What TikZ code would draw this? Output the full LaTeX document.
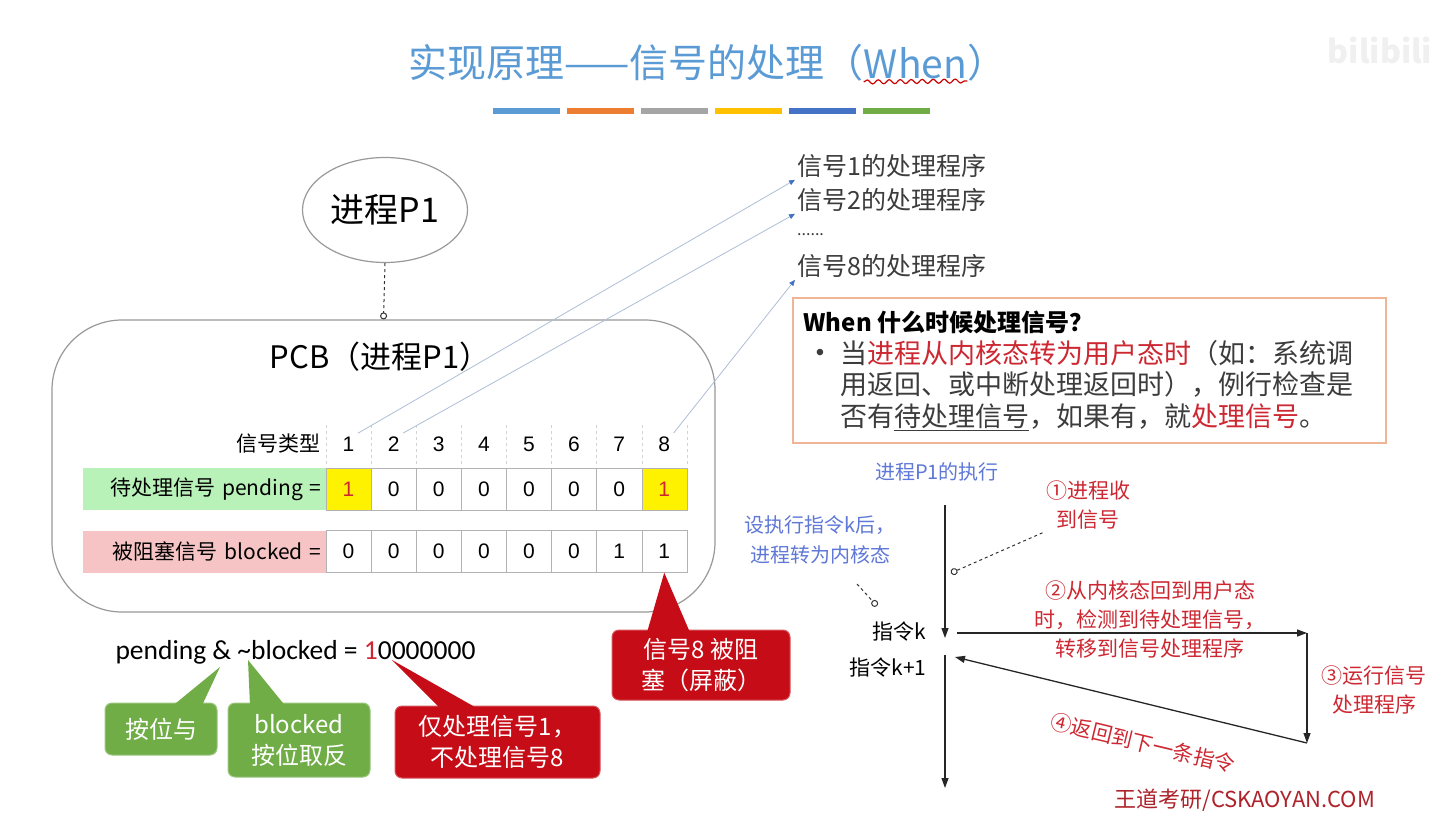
\documentclass[tikz,border=0pt]{standalone}
\usepackage{fontspec}
\setmainfont{Noto Sans CJK SC}
\newfontfamily\latinfont{Carlito}
\newfontfamily\arialfont{Liberation Sans}
\usetikzlibrary{arrows.meta,positioning,shapes.geometric,decorations.pathmorphing}

\definecolor{titleblue}{RGB}{91,155,213}
\definecolor{barorange}{RGB}{237,125,49}
\definecolor{bargray}{RGB}{165,165,165}
\definecolor{baryellow}{RGB}{255,192,0}
\definecolor{bardarkblue}{RGB}{68,114,196}
\definecolor{bargreen}{RGB}{112,173,71}
\definecolor{txtred}{RGB}{205,40,50}
\definecolor{calloutred}{RGB}{198,12,22}
\definecolor{pendgreen}{RGB}{185,242,185}
\definecolor{blockpink}{RGB}{246,196,196}
\definecolor{linkblue}{RGB}{175,190,215}
\definecolor{boxorange}{RGB}{240,180,150}
\definecolor{flowblue}{RGB}{95,120,215}
\definecolor{textgray}{RGB}{60,60,60}

\begin{document}
\begin{tikzpicture}[x=1pt,y=-1pt,
  cell/.style={draw=gray!60, minimum width=45.1pt, minimum height=42pt, inner sep=0pt, font=\arialfont\fontsize{21}{21}\selectfont},
  rowlabel/.style={minimum height=42pt, text width=235pt, inner sep=4pt, align=right, font=\fontsize{21}{21}\selectfont},
  handler/.style={anchor=west, inner sep=2pt, text=textgray, font=\fontsize{25}{25}\selectfont},
  link/.style={linkblue, line width=0.8pt, -{Triangle[length=6pt,width=5pt,color=bardarkblue]}},
  callgreen/.style={fill=bargreen, draw=bargreen!70!white, line width=1pt, rounded corners=7pt, text=white, align=center, inner sep=0pt, font=\fontsize{24}{31}\selectfont},
  callred/.style={fill=calloutred, draw=calloutred!70!white, line width=1pt, rounded corners=7pt, text=white, align=center, inner sep=0pt, font=\fontsize{24}{31}\selectfont},
  flowtext/.style={text=txtred, align=center, font=\fontsize{21}{29}\selectfont},
  flowarrow/.style={black!85, line width=1.3pt, -{Triangle[length=10pt,width=7pt]}},
  pin/.style={dashed, black!80, line width=1pt, -{Circle[open,length=7pt]}},
  titletext/.style={text=titleblue, inner sep=0pt, font=\fontsize{39}{39}\selectfont}
]
\useasboundingbox[fill=white] (0,0) rectangle (1443,816);

% title
\node[titletext, anchor=west] (titlea) at (408,63) {实现原理——信号的处理（};
\node[titletext, right=0pt of titlea] (titlew) {When};
\node[titletext, right=0pt of titlew] (titleb) {）};
\draw[red!80!black, line width=1.2pt, decorate, decoration={snake, amplitude=2pt, segment length=11pt}] ([yshift=-3pt]titlew.south west) -- ([yshift=-2pt]titlew.south east);
\foreach \c [count=\i] in {titleblue,barorange,bargray,baryellow,bardarkblue,bargreen}
   \fill[\c] ({493+(\i-1)*74},108) rectangle ++(67,6);
\node[text=gray!12, font=\bfseries\fontsize{32}{32}\selectfont] (bili) at (1380,50) {bilibili};

% process and PCB
\node[ellipse, draw=gray!80, line width=1.2pt, minimum width=165pt, minimum height=105pt, font=\fontsize{34}{34}\selectfont] (proc) at (385,210) {进程P1};
\node[draw=gray!80, line width=1.2pt, rounded corners=70pt, minimum width=663pt, minimum height=292pt] (pcb) at (383.5,466) {};
\node[font=\fontsize{31}{31}\selectfont] (pcblbl) at (380,357) {PCB（进程P1）};
\draw[pin] (proc.south) -- (pcb.north);

% signal table
\foreach \k in {0,...,8}
   \draw[gray!35, dashed] ({326+45.1*\k},425) -- ({326+45.1*\k},466);
\node[anchor=east, font=\fontsize{21}{21}\selectfont] (typelbl) at (324,444) {信号类型};
\foreach \i in {1,...,8}
   \node[font=\arialfont\fontsize{21}{21}\selectfont] (h\i) at ({326+45.1*(\i-0.5)},444) {\i};
\foreach \v/\f/\c [count=\i] in {1/yellow/txtred,0/white/black,0/white/black,0/white/black,0/white/black,0/white/black,0/white/black,1/yellow/txtred}
   \node[cell, fill=\f, text=\c] (p\i) at ({326+45.1*(\i-0.5)},489) {\v};
\foreach \v [count=\i] in {0,0,0,0,0,0,1,1}
   \node[cell] (b\i) at ({326+45.1*(\i-0.5)},551.5) {\v};
\node[rowlabel, fill=pendgreen, anchor=east] (pendlbl) at (p1.west) {待处理信号 pending =};
\node[rowlabel, fill=blockpink, anchor=east] (blklbl) at (b1.west) {被阻塞信号 blocked =};

% handlers
\node[handler] (hd1) at (795,166) {信号1的处理程序};
\node[handler] (hd2) at (795,200) {信号2的处理程序};
\node[handler, font=\fontsize{16}{16}\selectfont] (hddots) at (795,235) {......};
\node[handler] (hd8) at (795,266) {信号8的处理程序};
\draw[link] (h1.north east) -- (hd1.south west);
\draw[link] (h2.north east) -- (hd2.south west);
\draw[link] (h8.north east) -- (hd8.south west);

% when box
\node[draw=boxorange, line width=1.5pt, anchor=north west, minimum width=593pt, minimum height=145pt, inner sep=0pt] (whenbox) at (792,297) {};
\node[anchor=west, font=\bfseries\fontsize{24}{24}\selectfont] (whenq) at (800,322) {When 什么时候处理信号？};
\node[text=textgray, font=\arialfont\fontsize{24}{24}\selectfont] (bullet) at (820,355) {\textbullet};
\node[anchor=north west, align=left, inner sep=0pt, text=textgray, font=\fontsize{27}{31.5}\selectfont] (whentxt) at (840,340)
   {当\textcolor{txtred}{进程从内核态转为用户态时}（如：系统调\\用返回、或中断处理返回时），例行检查是\\否有\underline{待处理信号}，如果有，就\textcolor{txtred}{处理信号}。};

% bit expression and callouts
\node[anchor=west, font=\latinfont\fontsize{27.5}{27.5}\selectfont] (expr) at (112,652) {pending \& \textasciitilde blocked = \textcolor{txtred}{1}0000000};
\coordinate (tipand) at (220,667);
\coordinate (tipnot) at (248,660);
\coordinate (tipres) at (392,660);
\node[callgreen, minimum width=112pt, minimum height=52pt] (andbox) at (161,729) {按位与};
\node[callgreen, minimum width=142pt, minimum height=74pt] (notbox) at (299,740) {blocked\\按位取反};
\node[callred, minimum width=205pt, minimum height=72pt] (resbox) at (497.5,742) {仅处理信号1，\\不处理信号8};
\node[callred, minimum width=178pt, minimum height=70pt] (blkbox) at (701,665) {信号8 被阻\\塞（屏蔽）};
\fill[bargreen] (tipand) -- ([xshift=12pt,yshift=-3pt]andbox.north) -- ([xshift=41pt,yshift=-3pt]andbox.north) -- cycle;
\fill[bargreen] (tipnot) -- ([xshift=-49pt,yshift=-3pt]notbox.north) -- ([xshift=-14pt,yshift=-3pt]notbox.north) -- cycle;
\fill[calloutred] (tipres) -- ([xshift=-57pt,yshift=-3pt]resbox.north) -- ([xshift=-20pt,yshift=-3pt]resbox.north) -- cycle;
\fill[calloutred] (b8.south) -- ([xshift=-54pt,yshift=-3pt]blkbox.north) -- ([xshift=-11pt,yshift=-3pt]blkbox.north) -- cycle;

% execution of P1
\node[text=flowblue, font=\fontsize{20}{20}\selectfont] (exec) at (937,472) {进程P1的执行};
\node[anchor=east, font=\fontsize{21}{21}\selectfont] (instk) at (930,632) {指令k};
\node[anchor=east, font=\fontsize{21}{21}\selectfont] (instk1) at (930,668) {指令k+1};
\coordinate (top) at (945,505);
\coordinate (kin) at (945,638);
\coordinate (kout) at (945,655);
\coordinate (bottom) at (945,788);
\coordinate (hstart) at (957,633);
\coordinate (corner) at (1307,633);
\coordinate (hend) at (1307,743);
\coordinate (retend) at (955,657);
\draw[flowarrow] (top) -- (kin);
\draw[flowarrow] (kout) -- (bottom);
\draw[flowarrow] (hstart) -- (corner);
\draw[flowarrow] (corner) -- (hend);
\draw[flowarrow] (hend) -- (retend);

\node[flowtext] (recv) at (1088,505) {①进程收\\到信号};
\node[flowtext] (back) at (1150,619) {②从内核态回到用户态\\时，检测到待处理信号，\\转移到信号处理程序};
\node[flowtext] (run) at (1374,690) {③运行信号\\处理程序};
\node[flowtext, rotate=-13.5] (ret) at (1143,743) {④返回到下一条指令};
\node[text=flowblue, align=center, font=\fontsize{20}{30}\selectfont] (kern) at (820,540) {设执行指令k后，\\进程转为内核态};
\coordinate (recvpt) at (951,573);
\coordinate (kerna) at (857,584);
\coordinate (kernpt) at (877,606);
\draw[pin] (recv.south west) -- (recvpt);
\draw[pin] (kerna) -- (kernpt);

\node[text=txtred!85!black, font=\fontsize{22}{22}\selectfont] (brand) at (1245,800) {王道考研/CSKAOYAN.COM};
\end{tikzpicture}
\end{document}
